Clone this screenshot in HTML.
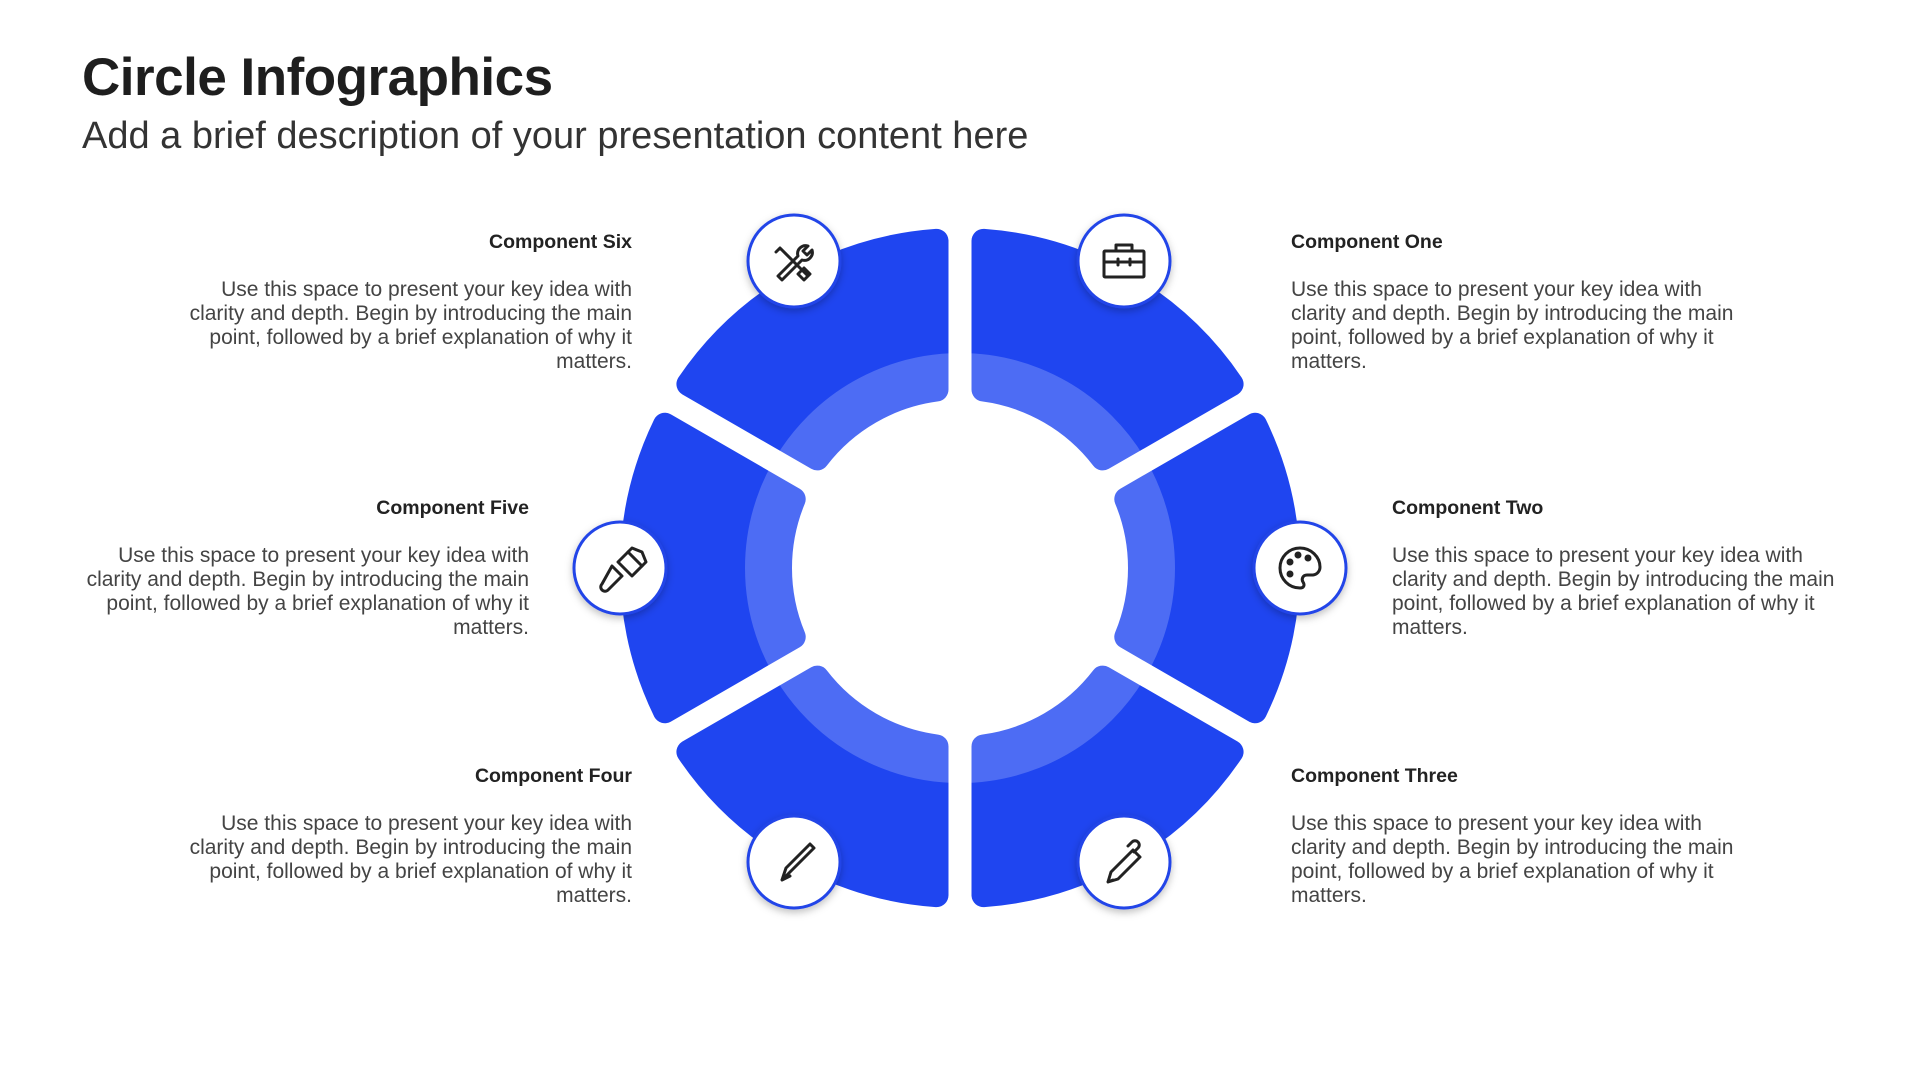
<!DOCTYPE html>
<html><head><meta charset="utf-8">
<style>
html,body{margin:0;padding:0;background:#fff;}
body{width:1920px;height:1080px;position:relative;overflow:hidden;font-family:"Liberation Sans",sans-serif;color:#222;}
.t{position:absolute;left:82px;top:47px;font-size:53px;font-weight:bold;color:#1e1e1e;letter-spacing:-0.5px;}
.s{position:absolute;left:82px;top:115px;font-size:38px;color:#333;}
.c{position:absolute;width:470px;}
.c h3{margin:0;font-size:19.5px;font-weight:bold;color:#222;line-height:24px;}
.c p{margin:24px 0 0;font-size:21px;line-height:24px;color:#444;white-space:nowrap;}
.r{text-align:right;}
svg{position:absolute;left:0;top:0;}
</style></head><body>
<div class="t">Circle Infographics</div>
<div class="s">Add a brief description of your presentation content here</div>

<svg width="1920" height="1080" id="sv">
<defs>
<mask id="m"><g id="mg" fill="#fff" stroke="#fff" stroke-width="24" stroke-linejoin="round"></g></mask>
<filter id="sh" x="-30%" y="-30%" width="160%" height="160%"><feDropShadow dx="0" dy="3" stdDeviation="4" flood-color="#000" flood-opacity="0.25"/></filter>
</defs>
<g mask="url(#m)">
<circle cx="960" cy="568" r="345" fill="#1f45f0"/>
<circle cx="960" cy="568" r="190" fill="none" stroke="#4d6cf4" stroke-width="50"/>
</g>
<g id="icons" fill="#fff" stroke="#2244e8" stroke-width="3" filter="url(#sh)">
<circle cx="1124" cy="261" r="46"/>
<circle cx="794" cy="261" r="46"/>
<circle cx="1300" cy="568" r="46"/>
<circle cx="620" cy="568" r="46"/>
<circle cx="794" cy="862" r="46"/>
<circle cx="1124" cy="862" r="46"/>
</g>
<g fill="none" stroke="#222" stroke-width="3" stroke-linecap="round" stroke-linejoin="round">
<rect x="1104" y="251" width="40" height="26" rx="1"/>
<path d="M1116 251v-6h16v6M1104 262h40M1118 259v6M1130 259v6"/>
<path d="M780 248l28 28M776 252l4-4M804 280l6-6 -6-6 -6 6z"/>
<path d="M808 246a8 8 0 0 0-10 10l-20 20 4 4 20-20a8 8 0 0 0 10-10l-5 5-4-4z"/>
<path d="M1300 548a20 20 0 1 0 0 40c4 0 5-3 3-6-2-3 0-7 4-7h6a8 8 0 0 0 7-8c0-10-9-19-20-19z"/>
<circle cx="1290" cy="562" r="2" fill="#222"/><circle cx="1298" cy="555" r="2" fill="#222"/><circle cx="1308" cy="558" r="2" fill="#222"/><circle cx="1290" cy="574" r="2" fill="#222"/>
<path d="M612 566l10 10-14 14a4 4 0 0 1-6-6z"/>
<path d="M618 562l14 14 10-10-14-14z"/><path d="M628 552l4-4 10 4 4 10-4 4"/>
<path d="M782 880l4-12 24-24 4 4-24 24z M782 880l8-4"/>
<path d="M1108 882l3-10 22-22 7 7-22 22z M1128 846l4-4a4 4 0 0 1 6 6l-4 4M1108 882l5-2"/>
</g>
</svg>

<div class="c r" style="left:162px;top:230px;"><h3>Component Six</h3><p>Use this space to present your key idea with<br>clarity and depth. Begin by introducing the main<br>point, followed by a brief explanation of why it<br>matters.</p></div>
<div class="c r" style="left:59px;top:496px;"><h3>Component Five</h3><p>Use this space to present your key idea with<br>clarity and depth. Begin by introducing the main<br>point, followed by a brief explanation of why it<br>matters.</p></div>
<div class="c r" style="left:162px;top:764px;"><h3>Component Four</h3><p>Use this space to present your key idea with<br>clarity and depth. Begin by introducing the main<br>point, followed by a brief explanation of why it<br>matters.</p></div>
<div class="c" style="left:1291px;top:230px;"><h3>Component One</h3><p>Use this space to present your key idea with<br>clarity and depth. Begin by introducing the main<br>point, followed by a brief explanation of why it<br>matters.</p></div>
<div class="c" style="left:1392px;top:496px;"><h3>Component Two</h3><p>Use this space to present your key idea with<br>clarity and depth. Begin by introducing the main<br>point, followed by a brief explanation of why it<br>matters.</p></div>
<div class="c" style="left:1291px;top:764px;"><h3>Component Three</h3><p>Use this space to present your key idea with<br>clarity and depth. Begin by introducing the main<br>point, followed by a brief explanation of why it<br>matters.</p></div>

<script>
(function(){
var cx=960,cy=568,Ro=328,Ri=180,d=23.5,ns="http://www.w3.org/2000/svg";
var g=document.getElementById("mg");
function P(r,a){return (cx+r*Math.cos(a)).toFixed(2)+" "+(cy+r*Math.sin(a)).toFixed(2);}
var b=[-90,-30,30,90,150,210];
for(var i=0;i<6;i++){
 var a1=b[i]*Math.PI/180,a2=(b[i]+60)*Math.PI/180;
 var dO=Math.asin(d/Ro),dI=Math.asin(d/Ri);
 var p="M"+P(Ro,a1+dO)+" A"+Ro+" "+Ro+" 0 0 1 "+P(Ro,a2-dO)+" L"+P(Ri,a2-dI)+" A"+Ri+" "+Ri+" 0 0 0 "+P(Ri,a1+dI)+" Z";
 var e=document.createElementNS(ns,"path");e.setAttribute("d",p);g.appendChild(e);
}
})();
</script>
</body></html>
